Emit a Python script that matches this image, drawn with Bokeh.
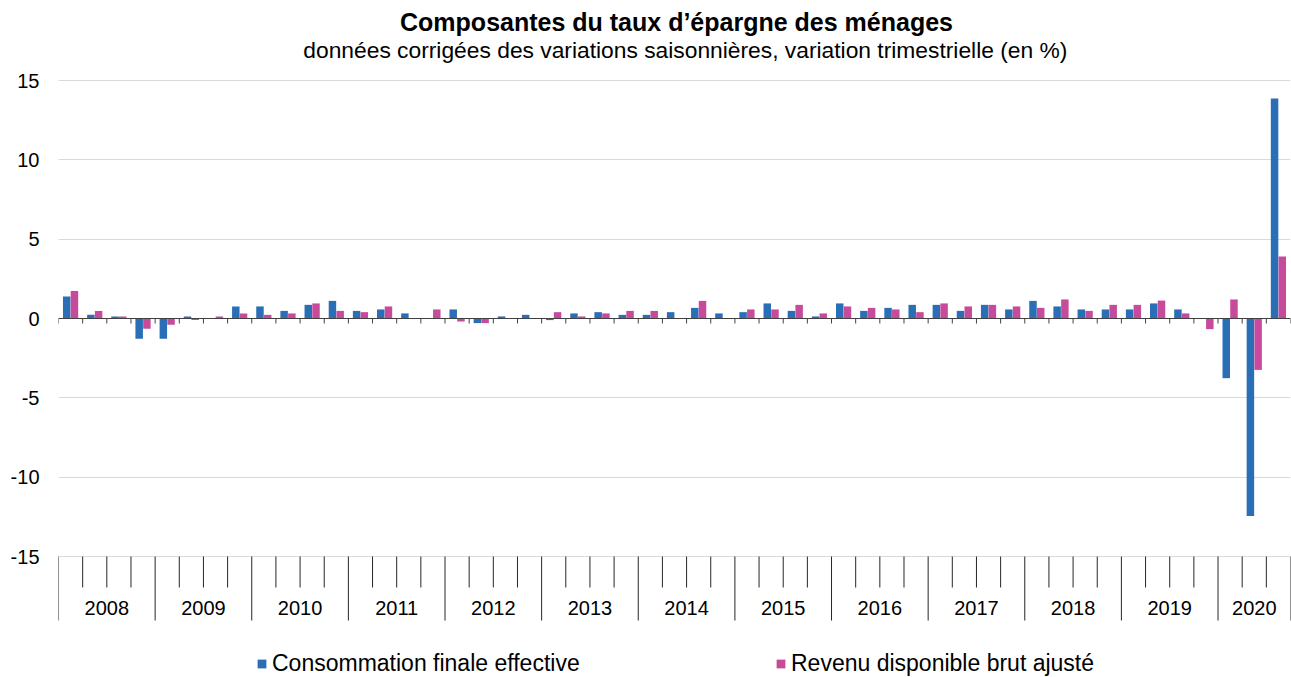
from bokeh.plotting import figure
from bokeh.models import (ColumnDataSource, Range1d, FixedTicker, Label, Legend,
                          LegendItem, Span)
from bokeh.core.properties import value
from bokeh.embed import file_html
from bokeh.resources import INLINE

# ---------------- data ----------------
years = ["2008", "2009", "2010", "2011", "2012", "2013", "2014",
         "2015", "2016", "2017", "2018", "2019", "2020"]
quarters_per_year = [4, 4, 4, 4, 4, 4, 4, 4, 4, 4, 4, 4, 3]

conso = [1.39, 0.23, 0.13, -1.28,
         -1.28, 0.13, 0.03, 0.76,
         0.76, 0.48, 0.86, 1.11,
         0.48, 0.57, 0.32, 0.02,
         0.57, -0.29, 0.13, 0.23,
         -0.10, 0.32, 0.40, 0.23,
         0.23, 0.40, 0.67, 0.32,
         0.40, 0.95, 0.48, 0.13,
         0.95, 0.48, 0.67, 0.86,
         0.86, 0.48, 0.86, 0.57,
         1.11, 0.76, 0.57, 0.57,
         0.57, 0.95, 0.57, -0.03,
         -3.76, -12.44, 13.87]

revenu = [1.74, 0.48, 0.13, -0.65,
          -0.40, -0.10, 0.13, 0.32,
          0.23, 0.32, 0.95, 0.48,
          0.40, 0.76, -0.03, 0.57,
          -0.19, -0.29, -0.02, -0.02,
          0.40, 0.13, 0.32, 0.48,
          0.48, -0.02, 1.11, -0.02,
          0.57, 0.57, 0.86, 0.32,
          0.76, 0.67, 0.57, 0.40,
          0.95, 0.76, 0.86, 0.76,
          0.67, 1.20, 0.48, 0.86,
          0.86, 1.13, 0.32, -0.67,
          1.20, -3.24, 3.90]

y_ticks = [-15, -10, -5, 0, 5, 10, 15]

title_text = "Composantes du taux d\u2019épargne des ménages"
subtitle_text = "données corrigées des variations saisonnières,  variation trimestrielle (en %)"
series_names = ["Consommation finale effective", "Revenu disponible brut ajusté"]

BLUE = "#2A6EB6"
PINK = "#C74B9B"
FONT = "Liberation Sans"

# ---------------- layout geometry ----------------
W, H = 1291, 677
FRAME_L = 58
n = len(conso)
px_per_unit = 476 / 30.0          # 15 -> y 80 px, -15 -> y 556 px
y_end = 15 + 80 / px_per_unit
y_start = -15 - (H - 556) / px_per_unit

p = figure(width=W, height=H, output_backend="svg", toolbar_location=None,
           x_range=Range1d(0, n), y_range=Range1d(y_start, y_end),
           x_axis_location=None, min_border_left=FRAME_L, min_border_right=1,
           min_border_top=0, min_border_bottom=0, title=None)
p.outline_line_color = None
p.background_fill_color = "white"
p.border_fill_color = "white"

# y axis
p.yaxis.ticker = FixedTicker(ticks=y_ticks)
p.yaxis.major_label_overrides = {t: str(t) for t in y_ticks}
p.yaxis.axis_line_color = None
p.yaxis.major_tick_line_color = None
p.yaxis.minor_tick_line_color = None
p.yaxis.major_tick_in = 0
p.yaxis.major_tick_out = 0
p.yaxis.major_label_standoff = 19
p.yaxis.major_label_text_font = FONT
p.yaxis.major_label_text_font_size = "20px"
p.yaxis.major_label_text_color = "black"
p.xgrid.grid_line_color = None
p.ygrid.ticker = FixedTicker(ticks=y_ticks)
p.ygrid.grid_line_color = "#D9D9D9"
p.ygrid.grid_line_width = 1

# bars
xs = [i + 0.5 for i in range(n)]
src = ColumnDataSource(dict(x=xs, conso=conso, revenu=revenu,
                            xb=[x - 0.16 for x in xs], xp=[x + 0.16 for x in xs]))
r1 = p.vbar(x="xb", top="conso", bottom=0, width=0.31, source=src,
            fill_color=BLUE, line_color=None)
r2 = p.vbar(x="xp", top="revenu", bottom=0, width=0.31, source=src,
            fill_color=PINK, line_color=None)

# zero axis line with small ticks
p.add_layout(Span(location=0, dimension="width", line_color="#404040", line_width=1))
bounds = list(range(n + 1))
tick_len0 = 5 / px_per_unit
p.segment(x0=bounds, y0=[0] * len(bounds), x1=bounds, y1=[-tick_len0] * len(bounds),
          line_color="#404040", line_width=1)

# category axis at the bottom (quarter ticks + year separators + year labels)
year_starts = [0]
for q in quarters_per_year:
    year_starts.append(year_starts[-1] + q)
short_end = -15 - (587 - 556) / px_per_unit
long_end = -15 - (620 - 556) / px_per_unit
qb = [b for b in bounds if b not in year_starts]
p.segment(x0=qb, y0=[-15] * len(qb), x1=qb, y1=[short_end] * len(qb),
          line_color="#262626", line_width=1)
p.segment(x0=year_starts, y0=[-15] * len(year_starts), x1=year_starts,
          y1=[long_end] * len(year_starts), line_color="#262626", line_width=1)
year_centers = [(year_starts[i] + year_starts[i + 1]) / 2 for i in range(len(years))]
label_y = -15 - (607 - 556) / px_per_unit
p.text(x=year_centers, y=[label_y] * len(years), text=years,
       text_align="center", text_baseline="middle", text_font=value(FONT),
       text_font_size="20px", text_color="black")

# title and subtitle
def data_x(px):
    return (px - FRAME_L) / ((W - FRAME_L - 1) / n)

def data_y(py):
    return 15 + (80 - py) / px_per_unit

p.add_layout(Label(x=data_x(676), y=data_y(21), text=title_text, text_align="center",
                   text_baseline="alphabetic", text_font=FONT, text_font_size="25px",
                   text_font_style="bold", text_color="black"))
p.add_layout(Label(x=data_x(688), y=data_y(49), text=subtitle_text, text_align="center",
                   text_baseline="alphabetic", text_font=FONT, text_font_size="22.8px",
                   text_color="black"))

# legends
for rend, name, lx in [(r1, series_names[0], 198), (r2, series_names[1], 717)]:
    lg = Legend(items=[LegendItem(label=name, renderers=[rend])],
                location=(lx, 0), orientation="horizontal",
                glyph_width=11, glyph_height=11, label_standoff=5,
                padding=0, margin=0, spacing=0, border_line_color=None,
                background_fill_alpha=0, label_text_font=FONT,
                label_text_font_size="23px", label_text_color="black",
                label_height=20)
    p.add_layout(lg)

open("out.html", "w").write(file_html(p, INLINE))
